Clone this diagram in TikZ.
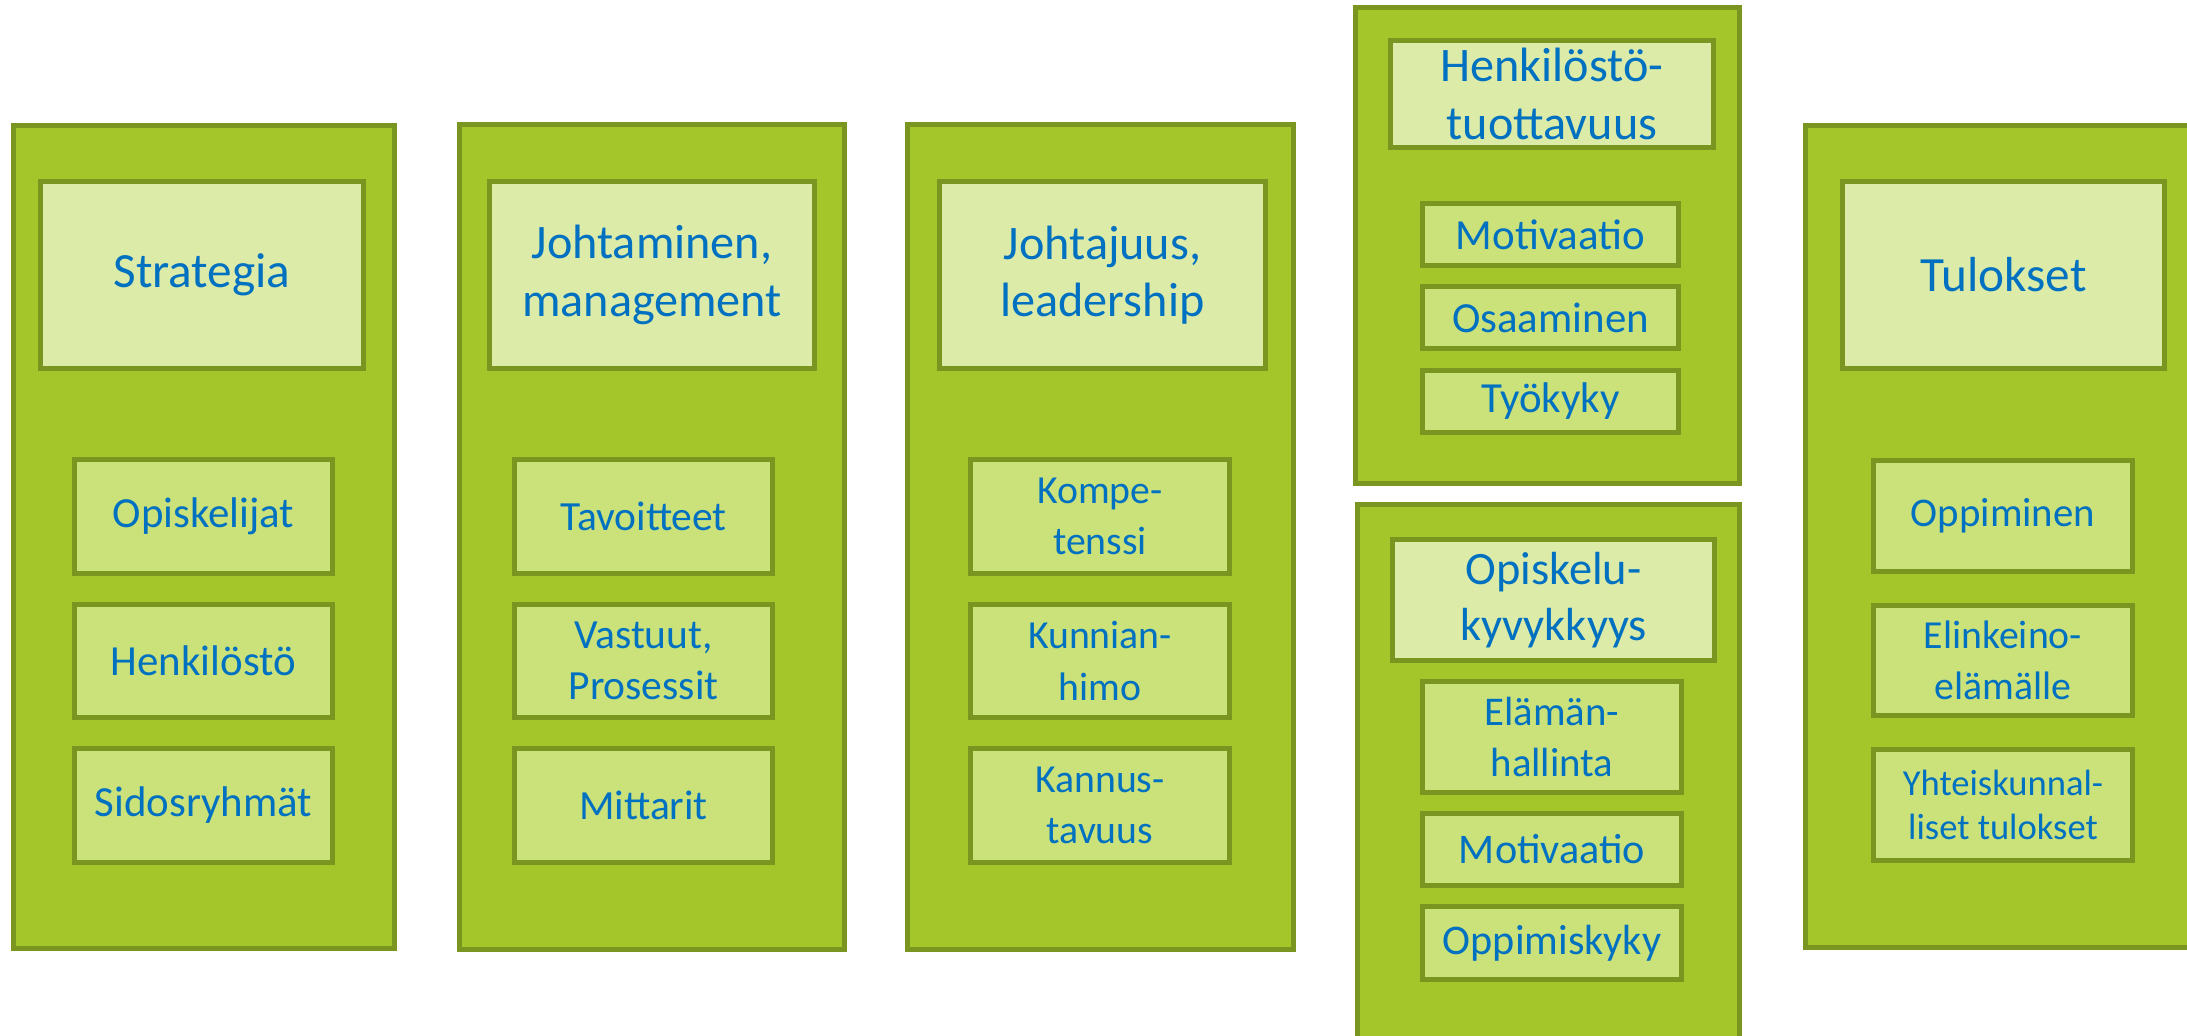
\documentclass[tikz,border=0pt]{standalone}
\usepackage{fontspec}
\setmainfont{Carlito}
\usepackage{tikz}
\usetikzlibrary{positioning}
\definecolor{limefill}{RGB}{165,198,42}
\definecolor{limeline}{RGB}{122,150,32}
\definecolor{headfill}{RGB}{220,235,168}
\definecolor{itemfill}{RGB}{203,226,122}
\definecolor{textblue}{RGB}{0,112,192}
\tikzset{column/.style={rectangle, draw=limeline, fill=limefill, line width=0.05cm, inner sep=0pt},
headbox/.style={rectangle, draw=limeline, fill=headfill, line width=0.05cm, inner sep=0pt, align=center, text=textblue, font=\fontsize{13.7}{16.3}\selectfont},
itembox/.style={rectangle, draw=limeline, fill=itemfill, line width=0.05cm, inner sep=0pt, align=center, text=textblue, font=\fontsize{11.8}{14.5}\selectfont}}

\begin{document}
\begin{tikzpicture}[x=0.01cm,y=-0.01cm]
\clip (0,0) rectangle (2187,1035);
\fill[white] (0,0) rectangle (2187,1035);

% Strategia
\node (c1) [column, minimum width=3.81cm, minimum height=8.22cm] at (204,537) {};
\node (strat) [headbox, minimum width=3.23cm, minimum height=1.87cm, font=\fontsize{14}{16.3}\selectfont] at (202,275) {Strategia};
\node (opisk) [itembox, minimum width=2.58cm, minimum height=1.14cm, font=\fontsize{12.2}{14.5}\selectfont] at (203.5,516.5) {Opiskelijat};
\node (henk) [itembox, minimum width=2.58cm, minimum height=1.13cm, font=\fontsize{12.2}{14.5}\selectfont] at (203.5,661) {Henkilöstö};
\node (sidos) [itembox, minimum width=2.58cm, minimum height=1.14cm, font=\fontsize{12.2}{14.5}\selectfont] at (203.5,805.5) {Sidosryhmät};

% Johtaminen
\node (c2) [column, minimum width=3.85cm, minimum height=8.25cm] at (652,537) {};
\node (johtam) [headbox, minimum width=3.25cm, minimum height=1.87cm] at (652,275) {Johtaminen,\\management};
\node (tavo) [itembox, minimum width=2.58cm, minimum height=1.14cm] at (643.5,516.5) {Tavoitteet};
\node (vast) [itembox, minimum width=2.58cm, minimum height=1.13cm] at (643.5,661) {Vastuut,\\Prosessit};
\node (mitt) [itembox, minimum width=2.58cm, minimum height=1.14cm] at (643.5,805.5) {Mittarit};

% Johtajuus
\node (c3) [column, minimum width=3.86cm, minimum height=8.25cm] at (1100.5,537) {};
\node (johtaj) [headbox, minimum width=3.26cm, minimum height=1.87cm] at (1102.5,275) {Johtajuus,\\leadership};
\node (komp) [itembox, minimum width=2.59cm, minimum height=1.14cm, font=\fontsize{11.3}{14.7}\selectfont] at (1100,516.5) {Kompe-\\tenssi};
\node (kunn) [itembox, minimum width=2.59cm, minimum height=1.13cm, font=\fontsize{11.3}{14.7}\selectfont] at (1100,661) {Kunnian-\\himo};
\node (kann) [itembox, minimum width=2.59cm, minimum height=1.14cm, font=\fontsize{11.3}{14.7}\selectfont] at (1100,805.5) {Kannus-\\tavuus};

% Henkilostotuottavuus
\node (c4a) [column, minimum width=3.84cm, minimum height=4.76cm] at (1547.5,245.5) {};
\node (htuot) [headbox, minimum width=3.23cm, minimum height=1.07cm] at (1552,94) {Henkilöstö-\\tuottavuus};
\node (motiv) [itembox, minimum width=2.56cm, minimum height=0.62cm, font=\fontsize{12.2}{14.5}\selectfont] at (1550.5,234.5) {Motivaatio};
\node (osaam) [itembox, minimum width=2.56cm, minimum height=0.62cm, font=\fontsize{12.2}{14.5}\selectfont] at (1550.5,317.5) {Osaaminen};
\node (tyok) [itembox, minimum width=2.56cm, minimum height=0.62cm, font=\fontsize{12.2}{14.5}\selectfont] at (1550.5,401.5) {Työkyky};

% Opiskelukyvykkyys
\node (c4b) [column, minimum width=3.82cm, minimum height=5.38cm] at (1548.5,773.5) {};
\node (okyv) [headbox, minimum width=3.22cm, minimum height=1.21cm, font=\fontsize{13.2}{15.8}\selectfont] at (1553.5,600) {Opiskelu-\\kyvykkyys};
\node (elam) [itembox, minimum width=2.59cm, minimum height=1.11cm, font=\fontsize{11.6}{14.4}\selectfont] at (1552,737) {Elämän-\\hallinta};
\node (motiv2) [itembox, minimum width=2.59cm, minimum height=0.72cm, font=\fontsize{12}{14.4}\selectfont] at (1552,849.5) {Motivaatio};
\node (oppky) [itembox, minimum width=2.59cm, minimum height=0.73cm, font=\fontsize{12}{14.4}\selectfont] at (1552,943) {Oppimiskyky};

% Tulokset
\node (c5) [column, minimum width=3.87cm, minimum height=8.22cm] at (1999,536.5) {};
\node (tulok) [headbox, minimum width=3.22cm, minimum height=1.87cm, font=\fontsize{14}{16.3}\selectfont] at (2003.5,275) {Tulokset};
\node (oppim) [itembox, minimum width=2.59cm, minimum height=1.10cm, font=\fontsize{11.6}{14.2}\selectfont] at (2003,516) {Oppiminen};
\node (elink) [itembox, minimum width=2.59cm, minimum height=1.10cm, font=\fontsize{11.3}{14.4}\selectfont] at (2003,660.5) {Elinkeino-\\elämälle};
\node (yhteis) [itembox, minimum width=2.59cm, minimum height=1.10cm, font=\fontsize{10.4}{12.3}\selectfont] at (2003,805) {Yhteiskunnal-\\liset tulokset};
\end{tikzpicture}
\end{document}
